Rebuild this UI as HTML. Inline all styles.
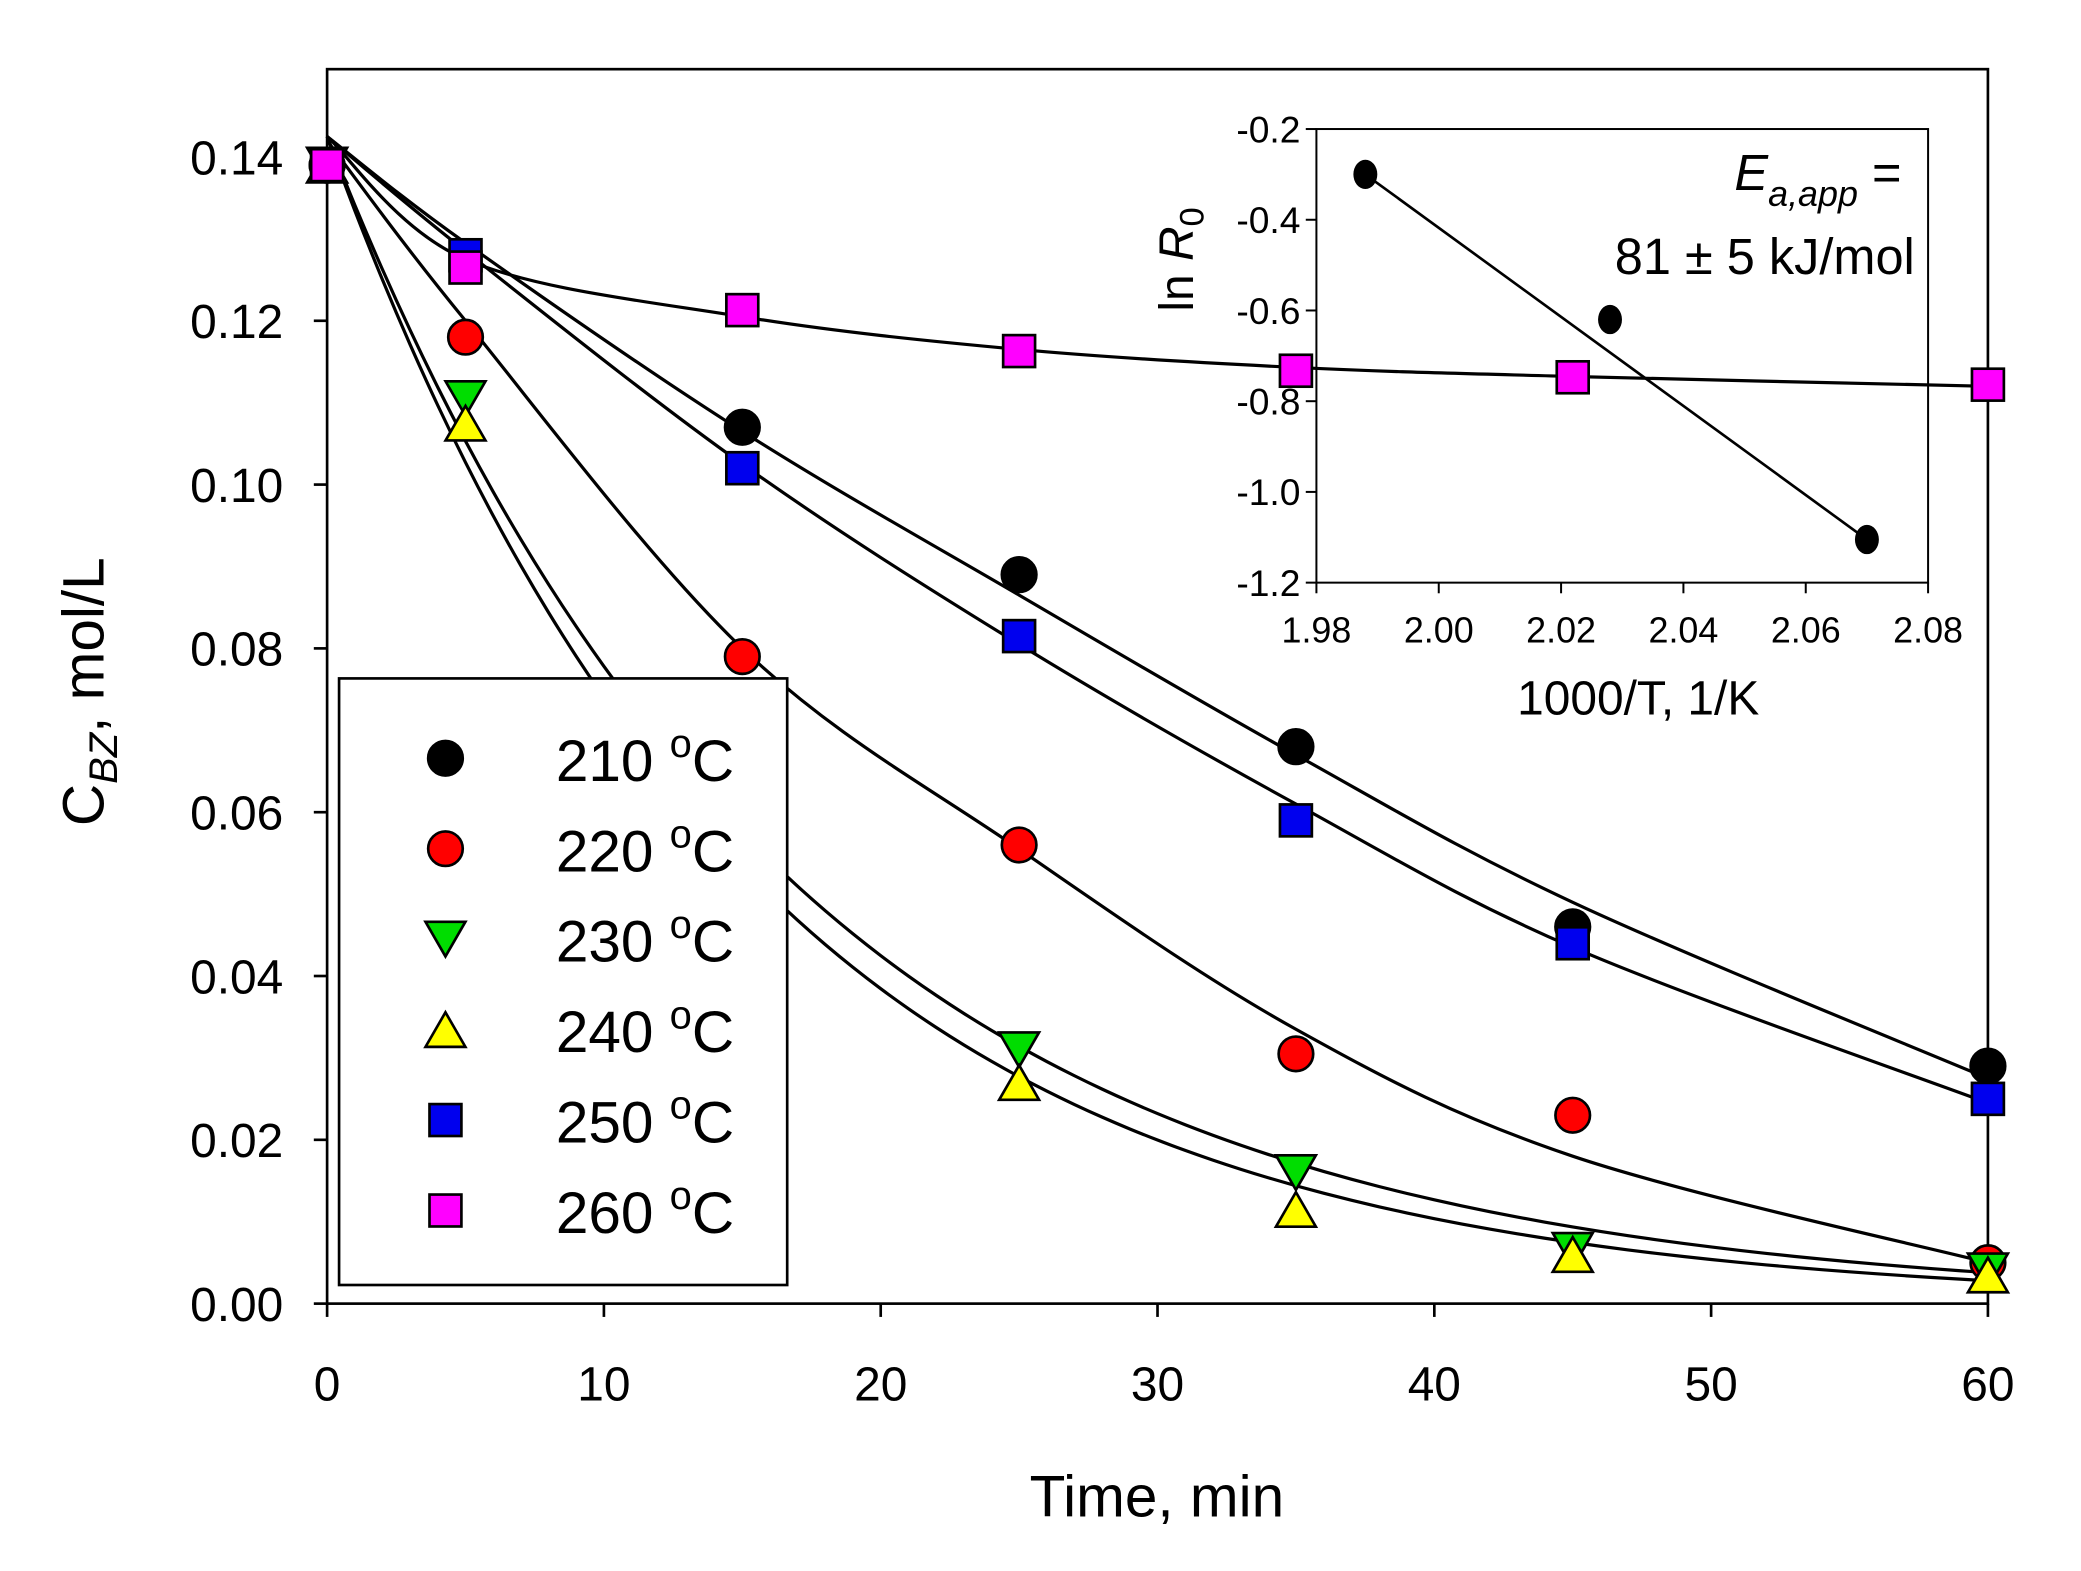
<!DOCTYPE html>
<html><head><meta charset="utf-8"><style>
html,body{margin:0;padding:0;background:#fff;}
svg{display:block;}
text{font-family:"Liberation Sans",Arial,sans-serif;fill:#000;}
</style></head><body>
<svg id="s" width="2081" height="1571" viewBox="0 0 1565 1181" preserveAspectRatio="none" xmlns="http://www.w3.org/2000/svg">
<rect width="1565" height="1181" fill="#fff"/>
<g id="g"></g>
</svg>
<script>
var out='';
function X(t){return 246+t*(1495-246)/60;}
function Y(c){return 980-c*(980-118)/0.14;}
function add(s){out+=s;}
add('<rect x="246" y="52" width="1249" height="928" fill="none" stroke="#000" stroke-width="2"/>');
var IL=990,IR=1450,IT=97,IB=438;
function IX(v){return IL+(v-1.98)/0.1*(IR-IL);}
function IY(v){return IT+(-0.2-v)/1.0*(IB-IT);}
add('<rect x="'+IL+'" y="'+IT+'" width="'+(IR-IL)+'" height="'+(IB-IT)+'" fill="#fff" stroke="#000" stroke-width="1.5"/>');
[-0.2,-0.4,-0.6,-0.8,-1.0,-1.2].forEach(function(v){var y=IY(v);add('<line x1="'+(IL-8)+'" y1="'+y+'" x2="'+IL+'" y2="'+y+'" stroke="#000" stroke-width="1.5"/><text x="'+(IL-12)+'" y="'+(y+10)+'" font-size="28" text-anchor="end">'+v.toFixed(1)+'</text>');});
[1.98,2.00,2.02,2.04,2.06,2.08].forEach(function(v){var x=IX(v);add('<line x1="'+x+'" y1="'+IB+'" x2="'+x+'" y2="'+(IB+8)+'" stroke="#000" stroke-width="1.5"/><text x="'+x+'" y="'+(IB+45)+'" font-size="27" text-anchor="middle">'+v.toFixed(2)+'</text>');});
add('<text x="1232" y="537" font-size="36" text-anchor="middle">1000/T, 1/K</text>');
add('<text transform="translate(897,195) rotate(-90)" font-size="36" text-anchor="middle">ln <tspan font-style="italic">R</tspan><tspan font-size="26" dy="8">0</tspan></text>');
add('<text x="1430" y="143" font-size="38" text-anchor="end"><tspan font-style="italic">E</tspan><tspan font-style="italic" font-size="27" dy="12">a,app</tspan><tspan dy="-12"> =</tspan></text>');
add('<text x="1440" y="206" font-size="38" text-anchor="end">81 ± 5 kJ/mol</text>');
add('<line x1="'+IX(1.988)+'" y1="'+IY(-0.30)+'" x2="'+IX(2.070)+'" y2="'+IY(-1.105)+'" stroke="#000" stroke-width="2"/>');
[[1.988,-0.30],[2.028,-0.62],[2.070,-1.105]].forEach(function(p){add('<ellipse cx="'+IX(p[0])+'" cy="'+IY(p[1])+'" rx="9" ry="11" fill="#000"/>');});
for(var i=0;i<=7;i++){var c=i*0.02,y=Y(c);add('<line x1="236" y1="'+y+'" x2="246" y2="'+y+'" stroke="#000" stroke-width="2"/><text x="213" y="'+(y+13)+'" font-size="36" text-anchor="end">'+c.toFixed(2)+'</text>');}
for(var t=0;t<=60;t+=10){var x=X(t);add('<line x1="'+x+'" y1="980" x2="'+x+'" y2="990" stroke="#000" stroke-width="2"/><text x="'+x+'" y="1053" font-size="36" text-anchor="middle">'+t+'</text>');}
add('<text x="870" y="1140" font-size="44" text-anchor="middle">Time, min</text>');
add('<text transform="translate(78,520) rotate(-90)" font-size="44" text-anchor="middle">C<tspan font-style="italic" font-size="30" dy="10">BZ</tspan><tspan dy="-10">, mol/L</tspan></text>');
function cr(pts){var d='M'+pts[0][0]+','+pts[0][1];for(var i=0;i<pts.length-1;i++){var p0=pts[i-1]||pts[i],p1=pts[i],p2=pts[i+1],p3=pts[i+2]||p2;d+=' C'+(p1[0]+(p2[0]-p0[0])/6)+','+(p1[1]+(p2[1]-p0[1])/6)+' '+(p2[0]-(p3[0]-p1[0])/6)+','+(p2[1]-(p3[1]-p1[1])/6)+' '+p2[0]+','+p2[1];}return d;}
function tv(ts,cs){return ts.map(function(t,i){return [X(t),Y(cs[i])];});}
var T=[0,5,15,25,35,45,60];
var curves=[
 tv(T,[0.1425,0.1295,0.1065,0.0865,0.0670,0.0490,0.0275]),
 tv(T,[0.1425,0.1285,0.1025,0.0805,0.0610,0.0435,0.0245]),
 tv(T,[0.1420,0.1200,0.0800,0.0555,0.0335,0.0180,0.0050]),
 tv(T,[0.1425,0.1275,0.1205,0.1165,0.1143,0.1132,0.1120])];
function fn(f){var p=[];for(var t=0;t<=60;t+=1)p.push([X(t),Y(f(t))]);return cr(p);}
var paths=curves.map(cr);
paths.push(fn(function(t){return 0.1425*Math.exp(-0.0605*t);}));
paths.push(fn(function(t){return 0.1425*Math.exp(-0.0655*t);}));
paths.forEach(function(d){add('<path d="'+d+'" fill="none" stroke="#000" stroke-width="2.4"/>');});
function circ(x,y,col,r){return '<circle cx="'+x+'" cy="'+y+'" r="'+(r||13)+'" fill="'+col+'" stroke="#000" stroke-width="2"/>';}
function sq(x,y,col){return '<rect x="'+(x-12)+'" y="'+(y-12)+'" width="24" height="24" fill="'+col+'" stroke="#000" stroke-width="2"/>';}
function tri(x,y,col,down){var h=13;return down?'<polygon points="'+(x-15)+','+(y-h)+' '+(x+15)+','+(y-h)+' '+x+','+(y+h)+'" fill="'+col+'" stroke="#000" stroke-width="2"/>':'<polygon points="'+(x-15)+','+(y+h)+' '+(x+15)+','+(y+h)+' '+x+','+(y-h)+'" fill="'+col+'" stroke="#000" stroke-width="2"/>';}
var d210=[[0,0.139],[15,0.107],[25,0.089],[35,0.068],[45,0.046],[60,0.029]];
var d220=[[0,0.139],[5,0.118],[15,0.079],[25,0.056],[35,0.0305],[45,0.023],[60,0.005]];
var d230=[[0,0.139],[5,0.1105],[25,0.031],[35,0.016],[45,0.0065],[60,0.004]];
var d240=[[0,0.139],[5,0.1075],[25,0.027],[35,0.0115],[45,0.006],[60,0.0035]];
var d250=[[0,0.139],[5,0.128],[15,0.102],[25,0.0815],[35,0.059],[45,0.044],[60,0.025]];
var d260=[[0,0.139],[5,0.1265],[15,0.1213],[25,0.1163],[35,0.1139],[45,0.1131],[60,0.1122]];
d210.forEach(function(p){add(circ(X(p[0]),Y(p[1]),'#000'));});
d220.forEach(function(p){add(circ(X(p[0]),Y(p[1]),'#ff0000'));});
d230.forEach(function(p){add(tri(X(p[0]),Y(p[1]),'#00dd00',true));});
d240.forEach(function(p){add(tri(X(p[0]),Y(p[1]),'#ffff00',false));});
d250.forEach(function(p){add(sq(X(p[0]),Y(p[1]),'#0000ee'));});
d260.forEach(function(p){add(sq(X(p[0]),Y(p[1]),'#ff00ff'));});
add('<rect x="255" y="510" width="337" height="456" fill="#fff" stroke="#000" stroke-width="2"/>');
var L=[['210','c','#000'],['220','c','#ff0000'],['230','td','#00dd00'],['240','tu','#ffff00'],['250','s','#0000ee'],['260','s','#ff00ff']];
L.forEach(function(e,i){var y=570+i*68,x=335;
 if(e[1]=='c')add(circ(x,y,e[2]));else if(e[1]=='s')add(sq(x,y,e[2]));else add(tri(x,y,e[2],e[1]=='td'));
 add('<text x="418" y="'+(y+17)+'" font-size="44">'+e[0]+' <tspan font-size="30" dy="-18">o</tspan><tspan dy="18">C</tspan></text>');});
document.getElementById('g').innerHTML=out;
</script>
</body></html>
